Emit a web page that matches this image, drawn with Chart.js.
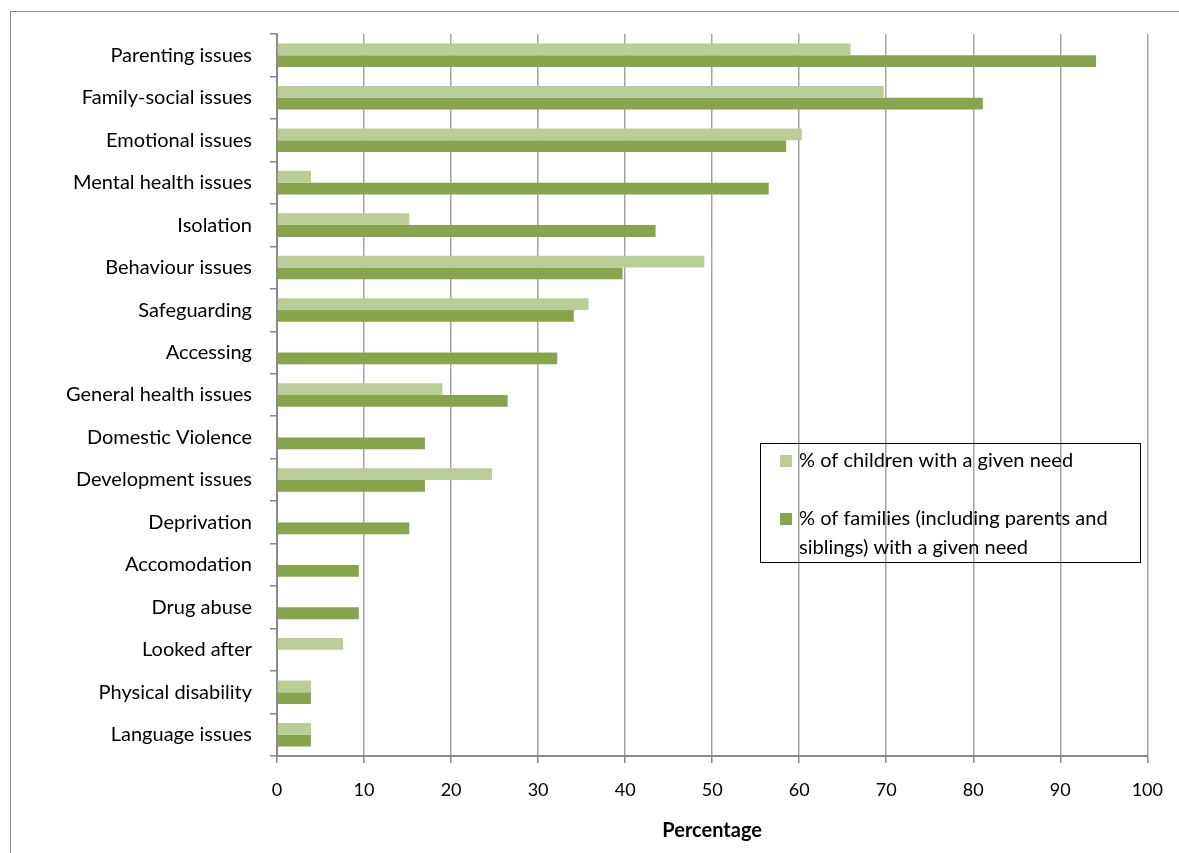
<!DOCTYPE html>
<html>
<head>
<meta charset="utf-8">
<title>Needs by category</title>
<script src="https://cdn.jsdelivr.net/npm/chart.js@4"></script>
<style>
    html, body { margin: 0; padding: 0; background: #fff; overflow: hidden; }
    #wrap { position: relative; width: 1179px; height: 853px; overflow: hidden; }
    #frame {
        position: absolute; left: 10px; top: 11px;
        width: 1300px; height: 1000px;
        border: 1px solid #8a8a8a;
    }
    #chart { position: absolute; left: 0; top: 0; }
</style>
</head>
<body>
<div id="wrap">
    <div id="frame"></div>
    <canvas id="chart" width="1179" height="853"></canvas>
</div>
<script>
// categories, top to bottom
const needs = [
    'Parenting issues', 'Family-social issues', 'Emotional issues', 'Mental health issues',
    'Isolation', 'Behaviour issues', 'Safeguarding', 'Accessing', 'General health issues',
    'Domestic Violence', 'Development issues', 'Deprivation', 'Accomodation', 'Drug abuse',
    'Looked after', 'Physical disability', 'Language issues'
];

// % of children with a given need (null = none recorded)
const childrenPct = [65.9, 69.7, 60.3, 3.9, 15.2, 49.1, 35.8, null, 19.0, null, 24.7, null, null, null, 7.6, 3.9, 3.9];

// % of families with a given need
const familiesPct = [94.1, 81.1, 58.5, 56.5, 43.5, 39.7, 34.1, 32.2, 26.5, 17.0, 17.0, 15.2, 9.4, 9.4, null, 3.9, 3.9];

const xTicks = [0, 10, 20, 30, 40, 50, 60, 70, 80, 90, 100];

const lightGreen = '#bbcd96';
const darkGreen = '#88a44d';
const fontFamily = 'Lato, "Open Sans", sans-serif';

// boxed legend on the right, with wrapped second label
const boxLegend = {
    id: 'boxLegend',
    afterDraw(chart) {
        const ctx = chart.ctx;
        const ds = chart.data.datasets;
        ctx.save();
        ctx.strokeStyle = '#000';
        ctx.lineWidth = 1;
        ctx.strokeRect(760.5, 443.5, 380, 119);
        ctx.font = '20px ' + fontFamily;
        ctx.fillStyle = '#000';
        ctx.textBaseline = 'middle';
        ctx.textAlign = 'left';

        const rows = [
            { y: 461, lines: [ds[0].label] },
            { y: 519, lines: ['% of families (including parents and', 'siblings) with a given need'] }
        ];
        rows.forEach((row, i) => {
            ctx.fillStyle = ds[i].backgroundColor;
            ctx.fillRect(780, row.y - 6, 12, 12);
            ctx.fillStyle = '#000';
            row.lines.forEach((line, j) => {
                ctx.fillText(line, 799, row.y + j * 29);
            });
        });
        ctx.restore();
    }
};

new Chart(document.getElementById('chart'), {
    type: 'bar',
    data: {
        labels: needs,
        datasets: [
            {
                label: '% of children with a given need',
                data: childrenPct,
                backgroundColor: lightGreen,
                categoryPercentage: 0.555,
                barPercentage: 1.0
            },
            {
                label: '% of families (including parents and siblings) with a given need',
                data: familiesPct,
                backgroundColor: darkGreen,
                categoryPercentage: 0.555,
                barPercentage: 1.0
            }
        ]
    },
    options: {
        indexAxis: 'y',
        responsive: false,
        animation: false,
        devicePixelRatio: 1,
        layout: {
            padding: { top: 34, right: 30, left: 0, bottom: 0 }
        },
        plugins: {
            legend: { display: false },
            tooltip: { enabled: false }
        },
        scales: {
            x: {
                min: 0,
                max: 100,
                afterBuildTicks: (scale) => {
                    scale.ticks = xTicks.map(v => ({ value: v }));
                },
                afterFit: (scale) => { scale.height = 97; },
                grid: {
                    color: '#a3a3a3',
                    lineWidth: 1.5,
                    drawTicks: true,
                    tickLength: 7,
                    tickColor: '#8a8a8a'
                },
                border: { display: true, color: '#8a8a8a', width: 2 },
                ticks: {
                    padding: 16,
                    color: '#000',
                    font: { family: fontFamily, size: 18 }
                },
                title: {
                    display: true,
                    text: 'Percentage',
                    color: '#000',
                    font: { family: fontFamily, size: 20, weight: 'bold' },
                    padding: { top: 0, bottom: 10 }
                }
            },
            y: {
                afterFit: (scale) => { scale.width = 277; },
                grid: {
                    drawOnChartArea: false,
                    drawTicks: true,
                    tickLength: 7,
                    tickColor: '#8a8a8a',
                    lineWidth: 1.5,
                    offset: true
                },
                border: { display: true, color: '#8a8a8a', width: 2 },
                ticks: {
                    padding: 18,
                    color: '#000',
                    autoSkip: false,
                    font: { family: fontFamily, size: 20 }
                }
            }
        }
    },
    plugins: [boxLegend]
});
</script>
</body>
</html>
